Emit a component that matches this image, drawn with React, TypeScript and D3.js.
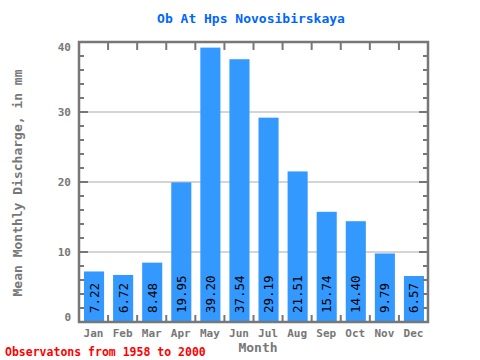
import React from "react";
import * as d3 from "d3";

const months = ["Jan", "Feb", "Mar", "Apr", "May", "Jun", "Jul", "Aug", "Sep", "Oct", "Nov", "Dec"];
const discharge = [7.22, 6.72, 8.48, 19.95, 39.2, 37.54, 29.19, 21.51, 15.74, 14.4, 9.79, 6.57];
const yTicks = [0, 10, 20, 30, 40];
const gridValues = [10, 20, 30];
const minorTicks = d3.range(0, 41, 2);

const title = "Ob At Hps Novosibirskaya";
const yLabel = "Mean Monthly Discharge, in mm";
const xLabel = "Month";
const footer = "Observatons from 1958 to 2000";

export default function App() {
  const left = 79, right = 428, top = 42, bottom = 322;
  const x = d3.scaleBand<string>().domain(months).range([left, right]).paddingInner(0).paddingOuter(0);
  const y = d3.scaleLinear().domain([0, 40]).range([bottom, top]);
  const bw = x.bandwidth();
  const font = "'DejaVu Sans Mono', monospace";
  const axisColor = "#777777";

  const labelY = (v: number) => {
    const c = y(v);
    const adj = v === 40 ? 5 : v === 0 ? -5 : 0;
    return c + adj + 4;
  };

  return (
    <svg width={480} height={360} style={{ position: "absolute", left: 0, top: 0, background: "#fff" }}>
      <text x={251} y={23} textAnchor="middle" fill="#0066ff" fontFamily={font} fontWeight="bold" fontSize={13}>{title}</text>
      {gridValues.map(v => (
        <line key={v} x1={left} x2={right} y1={y(v)} y2={y(v)} stroke="#aaaaaa" strokeWidth={1} />
      ))}
      {months.map((m, i) => {
        const x0 = (x(m) as number) + 5;
        const w = bw - 9;
        return (
          <g key={m}>
            <rect x={x0} y={y(discharge[i])} width={w} height={bottom - y(discharge[i])} fill="#3399ff" />
            <text transform={`translate(${x0 + w / 2 + 4.5},${bottom - 9}) rotate(-90)`} fontFamily={font} fontSize={12.5} fill="#000">{discharge[i].toFixed(2)}</text>
          </g>
        );
      })}
      {minorTicks.map(v => {
        const major = v % 10 === 0;
        const len = major ? 9 : 5;
        return (
          <g key={v}>
            <line x1={left} x2={left + len} y1={y(v)} y2={y(v)} stroke={axisColor} strokeWidth={2} />
            <line x1={right} x2={right - len} y1={y(v)} y2={y(v)} stroke={axisColor} strokeWidth={2} />
          </g>
        );
      })}
      {months.slice(1).map(m => (
        <g key={m}>
          <line x1={x(m) as number} x2={x(m) as number} y1={top} y2={top + 8} stroke={axisColor} strokeWidth={2} />
          <line x1={x(m) as number} x2={x(m) as number} y1={bottom} y2={bottom - 7} stroke={axisColor} strokeWidth={2} />
        </g>
      ))}
      <rect x={left} y={top} width={right - left} height={bottom - top} fill="none" stroke={axisColor} strokeWidth={2.5} />
      {yTicks.map(v => (
        <text key={v} x={71} y={labelY(v)} textAnchor="end" fill={axisColor} fontFamily={font} fontWeight="bold" fontSize={11}>{v}</text>
      ))}
      {months.map(m => (
        <text key={m} x={(x(m) as number) + bw / 2} y={337} textAnchor="middle" fill={axisColor} fontFamily={font} fontWeight="bold" fontSize={11}>{m}</text>
      ))}
      <text x={258} y={352} textAnchor="middle" fill={axisColor} fontFamily={font} fontWeight="bold" fontSize={13}>{xLabel}</text>
      <text transform={`translate(22,183) rotate(-90)`} textAnchor="middle" fill={axisColor} fontFamily={font} fontWeight="bold" fontSize={13}>{yLabel}</text>
      <text x={5} y={356} fill="#ff0000" fontFamily={font} fontWeight="bold" fontSize={11.5}>{footer}</text>
    </svg>
  );
}
